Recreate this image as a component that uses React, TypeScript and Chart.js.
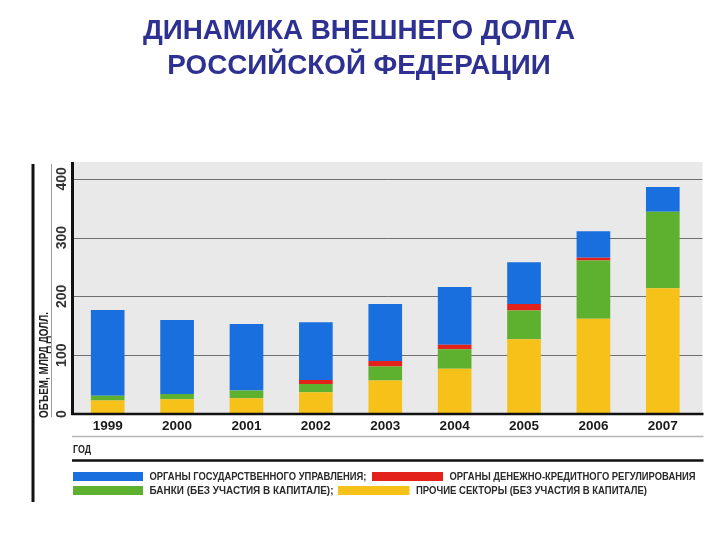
import React, { useEffect, useRef } from 'react';
import { Chart, registerables } from 'chart.js';

Chart.register(...registerables);

const titleLines = ['ДИНАМИКА ВНЕШНЕГО ДОЛГА', 'РОССИЙСКОЙ ФЕДЕРАЦИИ'];
const years = ['1999', '2000', '2001', '2002', '2003', '2004', '2005', '2006', '2007'];
const otherSectors = [23, 25, 27, 37, 57, 77, 127, 162, 214];
const banks = [8, 9, 13, 14, 24, 33, 49, 99, 130];
const monetaryAuthorities = [0, 0, 0, 7, 9, 8, 11, 5, 0];
const government = [146, 126, 113, 98, 97, 98, 71, 45, 42];
const yTicks = [0, 100, 200, 300, 400];
const seriesLabels = [
  'ПРОЧИЕ СЕКТОРЫ (БЕЗ УЧАСТИЯ В КАПИТАЛЕ)',
  'БАНКИ (БЕЗ УЧАСТИЯ В КАПИТАЛЕ);',
  'ОРГАНЫ ДЕНЕЖНО-КРЕДИТНОГО РЕГУЛИРОВАНИЯ',
  'ОРГАНЫ ГОСУДАРСТВЕННОГО УПРАВЛЕНИЯ;',
];
const seriesColors = ['#f6c118', '#5db12f', '#e3231b', '#1a6fdf'];
const yAxisTitle = 'ОБЪЕМ, МЛРД ДОЛЛ.';
const xAxisTitle = 'ГОД';

const FONT = '"Liberation Sans", Arial, sans-serif';

const decorPlugin = {
  id: 'decor',
  beforeDraw(chart: any) {
    const ctx = chart.ctx;
    const { left, right, top, bottom } = chart.chartArea;
    const ext = right + 5;
    const y = chart.scales.y;
    ctx.save();
    ctx.fillStyle = '#ffffff';
    ctx.fillRect(0, 0, chart.width, chart.height);
    ctx.fillStyle = '#e9e9e9';
    ctx.fillRect(left, top - 1, ext - left, bottom - top + 1);
    ctx.strokeStyle = '#6f6f6f';
    ctx.lineWidth = 1;
    yTicks.forEach((v) => {
      if (v === 0) return;
      const py = Math.round(y.getPixelForValue(v)) + 0.5;
      ctx.beginPath();
      ctx.moveTo(left, py);
      ctx.lineTo(ext, py);
      ctx.stroke();
    });
    ctx.restore();
  },
  afterDatasetsDraw(chart: any) {
    const ctx = chart.ctx;
    const { left, right, top, bottom } = chart.chartArea;
    const ext = right + 5;
    const y = chart.scales.y;
    ctx.save();
    // axes
    ctx.strokeStyle = '#111';
    ctx.lineWidth = 2.5;
    ctx.beginPath();
    ctx.moveTo(left - 1.5, bottom);
    ctx.lineTo(ext + 1, bottom);
    ctx.stroke();
    ctx.lineWidth = 3;
    ctx.beginPath();
    ctx.moveTo(left - 0.5, top - 1);
    ctx.lineTo(left - 0.5, bottom + 1);
    ctx.stroke();
    // left frame line
    ctx.beginPath();
    ctx.moveTo(33, top + 1);
    ctx.lineTo(33, 502);
    ctx.stroke();
    // thin separator
    ctx.strokeStyle = '#9a9a9a';
    ctx.lineWidth = 1;
    ctx.beginPath();
    ctx.moveTo(51.5, top + 1);
    ctx.lineTo(51.5, bottom + 3);
    ctx.stroke();
    // y tick labels (rotated)
    ctx.fillStyle = '#333';
    ctx.font = 'bold 14px ' + FONT;
    ctx.textAlign = 'center';
    ctx.textBaseline = 'middle';
    yTicks.forEach((v) => {
      const py = y.getPixelForValue(v);
      ctx.save();
      ctx.translate(62, py);
      ctx.rotate(-Math.PI / 2);
      ctx.fillText(String(v), 0, 0);
      ctx.restore();
    });
    // y axis title
    ctx.save();
    ctx.fillStyle = '#222';
    ctx.font = 'bold 12.5px ' + FONT;
    ctx.textAlign = 'left';
    ctx.translate(44.5, bottom + 4);
    ctx.rotate(-Math.PI / 2);
    ctx.fillText(yAxisTitle, 0, 0, 106);
    ctx.restore();
    // gray line below years
    ctx.strokeStyle = '#b5b5b5';
    ctx.lineWidth = 1.5;
    ctx.beginPath();
    ctx.moveTo(left - 1, 436.5);
    ctx.lineTo(ext + 1, 436.5);
    ctx.stroke();
    // x axis title
    ctx.fillStyle = '#222';
    ctx.font = 'bold 10.5px ' + FONT;
    ctx.textAlign = 'left';
    ctx.textBaseline = 'middle';
    ctx.fillText(xAxisTitle, left, 450, 18);
    // black line above legend
    ctx.strokeStyle = '#111';
    ctx.lineWidth = 2.5;
    ctx.beginPath();
    ctx.moveTo(left - 1, 460.5);
    ctx.lineTo(ext + 1, 460.5);
    ctx.stroke();
    // legend
    const ds = chart.data.datasets;
    const items = [
      { i: 3, sx: left, tx: 149.5, w: 217, row: 0 },
      { i: 2, sx: 372, tx: 449.5, w: 246, row: 0 },
      { i: 1, sx: left, tx: 149.5, w: 184, row: 1 },
      { i: 0, sx: 338, tx: 416, w: 231, row: 1 },
    ];
    ctx.font = 'bold 10.5px ' + FONT;
    items.forEach((it) => {
      const sy = it.row === 0 ? 472 : 486;
      const swEnd = it.tx - 6.5;
      ctx.fillStyle = ds[it.i].backgroundColor;
      ctx.fillRect(it.sx, sy, swEnd - it.sx, 9);
      ctx.fillStyle = '#2a2a2a';
      ctx.fillText(ds[it.i].label, it.tx, sy + 5, it.w);
    });
    ctx.restore();
  },
};

export default function App() {
  const ref = useRef<HTMLCanvasElement | null>(null);
  useEffect(() => {
    if (!ref.current) return;
    const chart = new Chart(ref.current, {
      type: 'bar',
      data: {
        labels: years,
        datasets: [otherSectors, banks, monetaryAuthorities, government].map((d, k) => ({
          label: seriesLabels[k],
          data: d,
          backgroundColor: seriesColors[k],
          borderWidth: 0,
          barPercentage: 0.485,
          categoryPercentage: 1,
        })),
      },
      options: {
        animation: false,
        responsive: false,
        devicePixelRatio: 1,
        layout: { padding: { left: 73, right: 22.5, top: 163, bottom: 96 } },
        plugins: { legend: { display: false }, tooltip: { enabled: false }, title: { display: false } },
        scales: {
          x: {
            stacked: true,
            grid: { display: false, drawTicks: false },
            border: { display: false },
            ticks: {
              color: '#1a1a1a',
              font: { family: FONT, size: 13.5, weight: 'bold' },
              padding: 4,
              maxRotation: 0,
              autoSkip: false,
            },
            afterFit: (s: any) => {
              s.height = 30;
            },
          },
          y: { stacked: true, display: false, min: 0, max: 427 },
        },
      },
      plugins: [decorPlugin],
    } as any);
    return () => chart.destroy();
  }, []);

  return (
    <div style={{ position: 'absolute', left: 0, top: 0, width: 720, height: 540, background: '#fff' }}>
      <canvas ref={ref} width={720} height={540} style={{ position: 'absolute', left: 0, top: 0, width: 720, height: 540 }} />
      <div
        style={{
          position: 'absolute',
          left: 0,
          top: 12,
          width: 718,
          textAlign: 'center',
          fontFamily: FONT,
          fontWeight: 'bold',
          fontSize: 27.8,
          lineHeight: '35px',
          color: '#2E3192',
        }}
      >
        {titleLines.map((t) => (
          <div key={t}>{t}</div>
        ))}
      </div>
    </div>
  );
}
